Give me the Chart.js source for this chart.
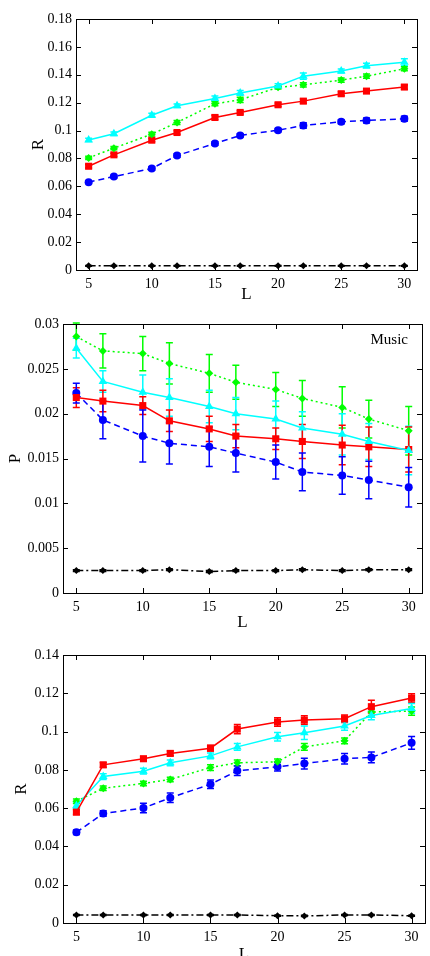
<!DOCTYPE html>
<html lang="en">
<head>
  <meta charset="UTF-8" />
  <title>R / P vs L</title>
  <script src="https://cdn.jsdelivr.net/npm/chart.js"></script>
  <style>
    body {
      margin: 0;
      background: white;
      width: 430px;
      height: 956px;
      overflow: hidden;
    }
    canvas {
      display: block;
    }
  </style>
</head>
<body>

  <canvas id="chartR1" width="430" height="305"></canvas>
  <canvas id="chartP" width="430" height="330"></canvas>
  <canvas id="chartR2" width="430" height="330"></canvas>

  <script>
    const xValues = [5, 7, 10, 12, 15, 17, 20, 22, 25, 27, 30];
    const xTicks = [5, 10, 15, 20, 25, 30];

    // top panel: R
    const r1Ticks = [0, 0.02, 0.04, 0.06, 0.08, 0.1, 0.12, 0.14, 0.16, 0.18];
    const r1Cyan  = [0.0933, 0.0977, 0.111, 0.1178, 0.123, 0.127, 0.132, 0.139, 0.1427, 0.1465, 0.149];
    const r1Green = [0.0804, 0.0874, 0.0974, 0.1058, 0.1192, 0.122, 0.131, 0.1328, 0.1362, 0.139, 0.1443];
    const r1Red   = [0.0744, 0.0826, 0.0931, 0.0986, 0.1094, 0.113, 0.1185, 0.1211, 0.1264, 0.1283, 0.1312];
    const r1Blue  = [0.063, 0.067, 0.0728, 0.0821, 0.0907, 0.0965, 0.1003, 0.1036, 0.1063, 0.1072, 0.1084];
    const r1Black = [0.003, 0.003, 0.003, 0.003, 0.003, 0.003, 0.003, 0.003, 0.003, 0.003, 0.003];
    const r1CyanErr  = [0.0012, 0.0012, 0.0015, 0.0013, 0.0018, 0.0017, 0.0015, 0.0022, 0.0015, 0.0017, 0.0025];
    const r1GreenErr = [0.0012, 0.0012, 0.0013, 0.0015, 0.0015, 0.0018, 0.0012, 0.0015, 0.0015, 0.0015, 0.0015];
    const r1RedErr   = [0.0012, 0.0012, 0.0012, 0.0012, 0.0015, 0.0012, 0.0012, 0.0015, 0.0015, 0.0015, 0.0015];
    const r1BlueErr  = [0.001, 0.001, 0.0012, 0.0012, 0.0012, 0.0012, 0.0012, 0.002, 0.0015, 0.0018, 0.0018];
    const r1BlackErr = [0.0003, 0.0003, 0.0003, 0.0003, 0.0003, 0.0003, 0.0003, 0.0003, 0.0003, 0.0003, 0.0003];

    // middle panel: P (Music)
    const pTicks = [0, 0.005, 0.01, 0.015, 0.02, 0.025, 0.03];
    const pGreen = [0.0286, 0.027, 0.0267, 0.0256, 0.0245, 0.0235, 0.0227, 0.0217, 0.0207, 0.0194, 0.0181];
    const pCyan  = [0.0273, 0.0236, 0.0224, 0.0218, 0.0208, 0.02, 0.0194, 0.0184, 0.0177, 0.0169, 0.0159];
    const pRed   = [0.0218, 0.0214, 0.0209, 0.0192, 0.0183, 0.0175, 0.0172, 0.0169, 0.0165, 0.0163, 0.016];
    const pBlue  = [0.0223, 0.0193, 0.0175, 0.0167, 0.0163, 0.0156, 0.0146, 0.0135, 0.0131, 0.0126, 0.0118];
    const pBlack = [0.0025, 0.0025, 0.0025, 0.0026, 0.0024, 0.0025, 0.0025, 0.0026, 0.0025, 0.0026, 0.0026];
    const pGreenErr = [0.0015, 0.0019, 0.0019, 0.0023, 0.0021, 0.0019, 0.0019, 0.002, 0.0023, 0.0021, 0.0027];
    const pCyanErr  = [0.0011, 0.0012, 0.0019, 0.0021, 0.0018, 0.0018, 0.002, 0.0018, 0.0023, 0.002, 0.0027];
    const pRedErr   = [0.0011, 0.0012, 0.001, 0.0012, 0.0014, 0.0013, 0.0012, 0.0019, 0.0022, 0.0022, 0.0025];
    const pBlueErr  = [0.0011, 0.0021, 0.0029, 0.0023, 0.0022, 0.0021, 0.0019, 0.0021, 0.0021, 0.0021, 0.0022];
    const pBlackErr = [0.0001, 0.0001, 0.0001, 0.0001, 0.0001, 0.0001, 0.0001, 0.0001, 0.0001, 0.0001, 0.0001];

    // bottom panel: R
    const r2Ticks = [0, 0.02, 0.04, 0.06, 0.08, 0.1, 0.12, 0.14];
    const r2Red   = [0.0579, 0.0826, 0.0858, 0.0886, 0.0913, 0.1013, 0.105, 0.106, 0.1067, 0.113, 0.1175];
    const r2Cyan  = [0.0612, 0.0765, 0.0793, 0.0837, 0.0873, 0.092, 0.0973, 0.0994, 0.1029, 0.1084, 0.1121];
    const r2Green = [0.0636, 0.0704, 0.0729, 0.075, 0.0812, 0.0837, 0.0842, 0.092, 0.0952, 0.1102, 0.1107];
    const r2Blue  = [0.0474, 0.0572, 0.0601, 0.0654, 0.0725, 0.0795, 0.0816, 0.0833, 0.0858, 0.0865, 0.0941];
    const r2Black = [0.0042, 0.0042, 0.0042, 0.0042, 0.0042, 0.0042, 0.0038, 0.0037, 0.0042, 0.0042, 0.0038];
    const r2RedErr   = [0.0012, 0.0012, 0.0012, 0.0012, 0.0015, 0.0024, 0.0022, 0.0022, 0.002, 0.0033, 0.0022];
    const r2CyanErr  = [0.0015, 0.0015, 0.0015, 0.0015, 0.0015, 0.0018, 0.0022, 0.0035, 0.0022, 0.0022, 0.0025];
    const r2GreenErr = [0.0012, 0.0012, 0.0012, 0.0012, 0.0015, 0.0015, 0.0015, 0.0018, 0.0015, 0.0018, 0.0022];
    const r2BlueErr  = [0.0012, 0.0015, 0.0025, 0.0025, 0.0022, 0.0025, 0.0022, 0.0028, 0.0028, 0.0028, 0.0033];
    const r2BlackErr = [0.0003, 0.0003, 0.0003, 0.0003, 0.0003, 0.0003, 0.0003, 0.0003, 0.0003, 0.0003, 0.0003];

    const serif = "'Liberation Serif', 'DejaVu Serif', serif";

    const styles = {
      cyan:  { color: "#00ffff", dash: [],           point: "triangle", radius: 5 },
      green: { color: "#00ff00", dash: [2, 3],        point: "rectRot",  radius: 4 },
      red:   { color: "#ff0000", dash: [],           point: "rect",     radius: 5 },
      blue:  { color: "#0000ff", dash: [6, 4],        point: "circle",   radius: 4 },
      black: { color: "#000000", dash: [7, 3, 2, 3],  point: "rectRot",  radius: 3.5 }
    };

    const series = (name, values, errors) => {
      const s = styles[name];
      return {
        data: values.map((v, i) => ({ x: xValues[i], y: v })),
        errors: errors,
        borderColor: s.color,
        backgroundColor: s.color,
        borderWidth: 1.5,
        borderDash: s.dash,
        pointStyle: s.point,
        pointRadius: s.radius,
        pointBorderWidth: 0,
        tension: 0
      };
    };

    // error bars drawn from each dataset's errors list
    const errorBars = {
      id: "errorBars",
      beforeDatasetsDraw(chart) {
        const ctx = chart.ctx;
        const yScale = chart.scales.y;
        chart.data.datasets.forEach((ds, di) => {
          const meta = chart.getDatasetMeta(di);
          ctx.save();
          ctx.strokeStyle = ds.borderColor;
          ctx.lineWidth = 1.5;
          meta.data.forEach((pt, i) => {
            const v = ds.data[i].y;
            const e = ds.errors[i];
            const top = yScale.getPixelForValue(v + e);
            const bot = yScale.getPixelForValue(v - e);
            ctx.beginPath();
            ctx.moveTo(pt.x, top); ctx.lineTo(pt.x, bot);
            ctx.moveTo(pt.x - 3.5, top); ctx.lineTo(pt.x + 3.5, top);
            ctx.moveTo(pt.x - 3.5, bot); ctx.lineTo(pt.x + 3.5, bot);
            ctx.stroke();
          });
          ctx.restore();
        });
      }
    };

    // matlab style box with inward ticks
    const frame = {
      id: "frame",
      afterDraw(chart) {
        const ctx = chart.ctx;
        const a = chart.chartArea;
        const xs = chart.scales.x, ys = chart.scales.y;
        ctx.save();
        ctx.strokeStyle = "#000";
        ctx.lineWidth = 1;
        ctx.strokeRect(a.left + 0.5, a.top + 0.5, a.right - a.left, a.bottom - a.top);
        ctx.beginPath();
        xs.ticks.forEach(t => {
          const px = Math.round(xs.getPixelForValue(t.value)) + 0.5;
          ctx.moveTo(px, a.bottom); ctx.lineTo(px, a.bottom - 5);
          ctx.moveTo(px, a.top); ctx.lineTo(px, a.top + 5);
        });
        ys.ticks.forEach(t => {
          const py = Math.round(ys.getPixelForValue(t.value)) + 0.5;
          ctx.moveTo(a.left, py); ctx.lineTo(a.left + 5, py);
          ctx.moveTo(a.right, py); ctx.lineTo(a.right - 5, py);
        });
        ctx.stroke();
        const note = chart.options.plugins.note;
        if (note && note.text) {
          ctx.fillStyle = "#000";
          ctx.font = "15px " + serif;
          ctx.textAlign = "right";
          ctx.textBaseline = "middle";
          ctx.fillText(note.text, a.right - 14, a.top + 16);
        }
        ctx.restore();
      }
    };

    function makeChart(id, opt) {
      return new Chart(document.getElementById(id), {
        type: "line",
        data: { datasets: opt.datasets },
        options: {
          responsive: false,
          animation: false,
          layout: { padding: opt.padding },
          plugins: {
            legend: { display: false },
            tooltip: { enabled: false },
            note: { text: opt.note || "" }
          },
          scales: {
            x: {
              type: "linear",
              min: 4,
              max: 31,
              afterBuildTicks: s => { s.ticks = xTicks.map(v => ({ value: v })); },
              afterFit: s => { s.height = opt.xHeight; },
              grid: { display: false, drawTicks: false },
              border: { display: false },
              ticks: { color: "#000", font: { family: serif, size: 14 }, padding: 6, maxRotation: 0, autoSkip: false },
              title: { display: true, text: "L", color: "#000", font: { family: serif, size: 17 }, padding: { top: 0, bottom: opt.titleBottom } }
            },
            y: {
              min: 0,
              max: opt.yTicks[opt.yTicks.length - 1],
              afterBuildTicks: s => { s.ticks = opt.yTicks.map(v => ({ value: v })); },
              afterFit: s => { s.width = opt.yWidth; },
              grid: { display: false, drawTicks: false },
              border: { display: false },
              ticks: {
                color: "#000",
                font: { family: serif, size: 14 },
                padding: 4,
                autoSkip: false,
                callback: v => String(+v.toFixed(4))
              },
              title: { display: true, text: opt.yTitle, color: "#000", font: { family: serif, size: 17 }, padding: { top: opt.titleLeft, bottom: 0 } }
            }
          }
        },
        plugins: [errorBars, frame]
      });
    }

    makeChart("chartR1", {
      yTicks: r1Ticks, yTitle: "R", yWidth: 76, xHeight: 35, titleBottom: 0, titleLeft: 28,
      padding: { top: 19, right: 13, left: 0, bottom: 0 },
      datasets: [
        series("cyan", r1Cyan, r1CyanErr),
        series("green", r1Green, r1GreenErr),
        series("red", r1Red, r1RedErr),
        series("blue", r1Blue, r1BlueErr),
        series("black", r1Black, r1BlackErr)
      ]
    });

    makeChart("chartP", {
      yTicks: pTicks, yTitle: "P", yWidth: 63, xHeight: 42, titleBottom: 2, titleLeft: 5, note: "Music",
      padding: { top: 19, right: 8, left: 0, bottom: 0 },
      datasets: [
        series("green", pGreen, pGreenErr),
        series("cyan", pCyan, pCyanErr),
        series("red", pRed, pRedErr),
        series("blue", pBlue, pBlueErr),
        series("black", pBlack, pBlackErr)
      ]
    });

    makeChart("chartR2", {
      yTicks: r2Ticks, yTitle: "R", yWidth: 63, xHeight: 42, titleBottom: 0, titleLeft: 11,
      padding: { top: 20, right: 2, left: 0, bottom: 0 },
      datasets: [
        series("red", r2Red, r2RedErr),
        series("cyan", r2Cyan, r2CyanErr),
        series("green", r2Green, r2GreenErr),
        series("blue", r2Blue, r2BlueErr),
        series("black", r2Black, r2BlackErr)
      ]
    });
  </script>

</body>
</html>
